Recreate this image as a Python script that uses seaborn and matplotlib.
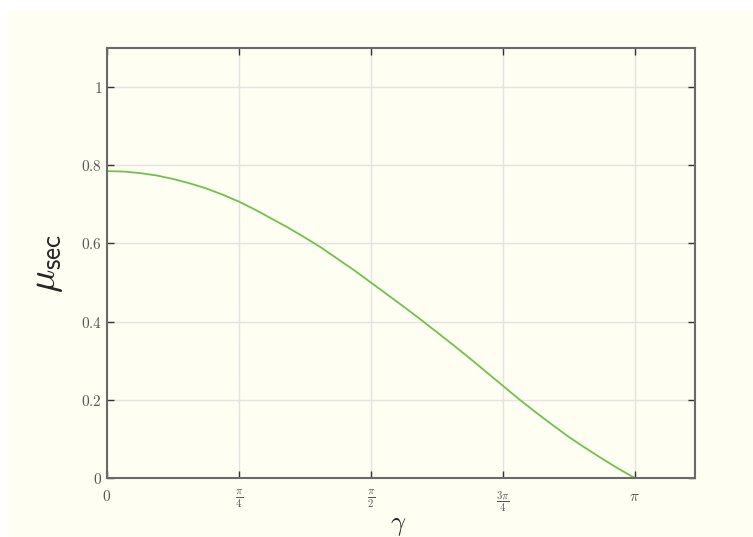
import numpy as np
import pandas as pd
import matplotlib
matplotlib.use("Agg")
import matplotlib.pyplot as plt
from matplotlib.patches import Rectangle
import seaborn as sns

# gamma as fractions of pi, and the corresponding mu_sec values
gamma_frac = [0.0, 0.03125, 0.0625, 0.09375, 0.125, 0.15625, 0.1875, 0.21875,
              0.25, 0.28125, 0.3125, 0.34375, 0.375, 0.40625, 0.4375, 0.46875,
              0.5, 0.53125, 0.5625, 0.59375, 0.625, 0.65625, 0.6875, 0.71875,
              0.75, 0.78125, 0.8125, 0.84375, 0.875, 0.90625, 0.9375, 0.96875,
              1.0]
mu_sec = [0.785, 0.784, 0.780, 0.774, 0.765, 0.754, 0.741, 0.725,
          0.707, 0.686, 0.663, 0.640, 0.615, 0.589, 0.560, 0.531,
          0.500, 0.469, 0.438, 0.406, 0.373, 0.340, 0.306, 0.271,
          0.236, 0.201, 0.168, 0.136, 0.105, 0.077, 0.050, 0.024,
          0.0]

x_ticks = [0, np.pi / 4, np.pi / 2, 3 * np.pi / 4, np.pi]
x_tick_labels = [r"$0$", r"$\frac{\pi}{4}$", r"$\frac{\pi}{2}$",
                 r"$\frac{3\pi}{4}$", r"$\pi$"]
y_ticks = [0, 0.2, 0.4, 0.6, 0.8, 1.0]
y_tick_labels = [r"$0$", r"$0.2$", r"$0.4$", r"$0.6$", r"$0.8$", r"$1$"]

df = pd.DataFrame({"gamma": np.array(gamma_frac) * np.pi, "mu": mu_sec})

sns.set_style("white")
plt.rcParams["mathtext.fontset"] = "cm"
plt.rcParams["font.family"] = ["DejaVu Sans"]

fig = plt.figure(figsize=(7.53, 5.37), dpi=100, facecolor="white")
fig.patches.append(Rectangle((7 / 753, 0), 1 - 7 / 753, 1 - 10 / 537,
                             transform=fig.transFigure, facecolor="#fffef3",
                             edgecolor="none", zorder=-10))
ax = fig.add_axes([107 / 753, 1 - 478 / 537, (695 - 107) / 753, (478 - 48) / 537])
ax.set_facecolor("#fffef3")

sns.lineplot(data=df, x="gamma", y="mu", ax=ax, color="#6fc24b", linewidth=1.3)

ax.set_xlim(0, 3.5)
ax.set_ylim(0, 1.1)
ax.set_xticks(x_ticks)
ax.set_xticklabels(x_tick_labels, fontsize=11, color="#555555")
ax.set_yticks(y_ticks)
ax.set_yticklabels(y_tick_labels, fontsize=11, color="#555555")
ax.tick_params(axis="both", direction="in", length=5, width=1, color="#333333",
               top=True, right=True, bottom=True, left=True)
ax.tick_params(axis="x", pad=8)
ax.grid(True, color="#e3e3e0", linewidth=1)
for side in ax.spines.values():
    side.set_color("#6a6a6a")
    side.set_linewidth(1.5)

ax.set_xlabel(r"$\gamma$", fontsize=19)
ax.xaxis.set_label_coords(0.495, -0.078)
ax.set_ylabel(r"$\mu_{\mathsf{sec}}$", fontsize=28)
ax.yaxis.set_label_coords(-0.072, 0.5)

fig.savefig("out.png", dpi=100, facecolor=fig.get_facecolor())
